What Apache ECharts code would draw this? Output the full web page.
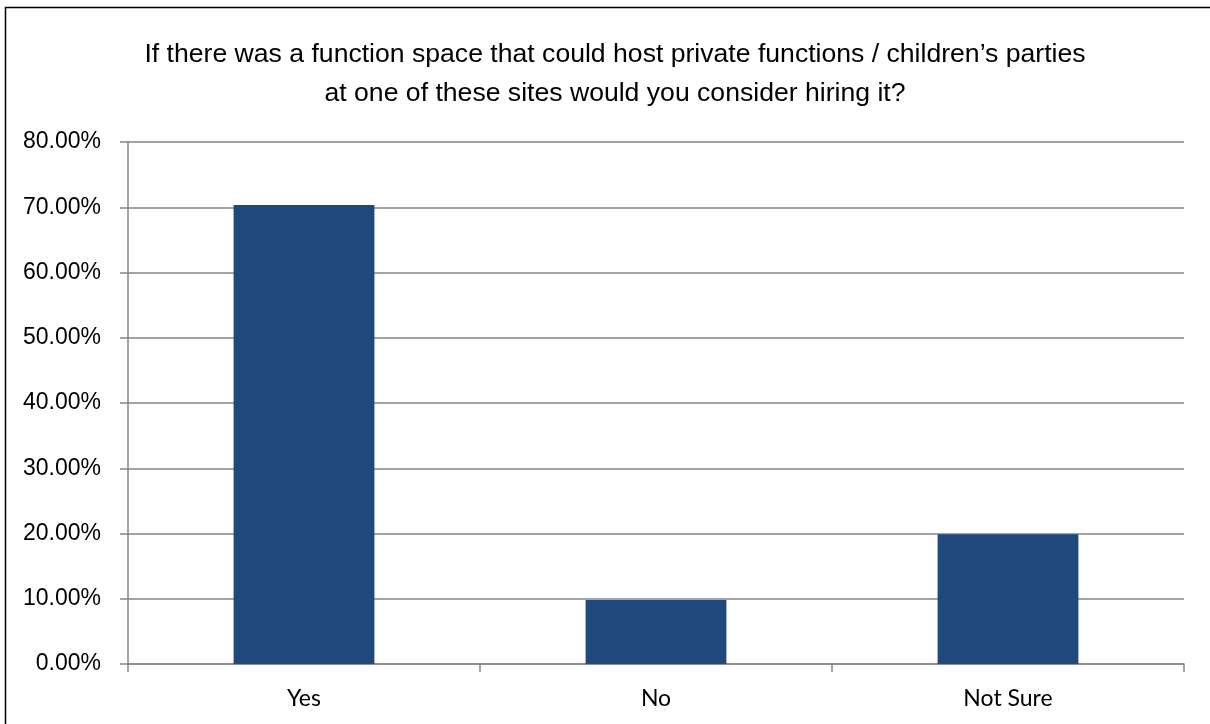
<!DOCTYPE html>
<html><head><meta charset="utf-8">
<script src="https://cdn.jsdelivr.net/npm/echarts@6/dist/echarts.min.js"></script>
<style>html,body{margin:0;padding:0;background:#fff}#c{width:1210px;height:724px}</style>
</head><body><div id="c"></div>
<script>
const categories = ["Yes", "No", "Not Sure"];
const values = [0.7034, 0.098, 0.199];
const titleLines = ["If there was a function space that could host private functions / children\u2019s parties", "at one of these sites would you consider hiring it?"];

const chart = echarts.init(document.getElementById('c'));
chart.setOption({
  animation: false,
  title: {
    text: titleLines.join('\n'),
    left: 610, top: 30, textAlign: 'center',
    textStyle: {fontFamily: 'Liberation Sans, Arial', fontSize: 26.6, fontWeight: 'normal', color: '#000', lineHeight: 39}
  },
  graphic: [{type: 'rect', shape: {x: 5.5, y: 7.5, width: 1230, height: 740}, style: {fill: 'none', stroke: '#000', lineWidth: 1.5}, silent: true, z: -1}],
  grid: {left: 128, right: 26, top: 142, bottom: 60},
  xAxis: {
    type: 'category', data: categories,
    axisLine: {lineStyle: {color: '#868686', width: 1.5}},
    axisTick: {show: true, alignWithLabel: false, length: 8, lineStyle: {color: '#868686', width: 1.5}},
    axisLabel: {fontFamily: 'Lato, Open Sans, sans-serif', fontSize: 23, color: '#000', margin: 23}
  },
  yAxis: {
    type: 'value', min: 0, max: 0.8, interval: 0.1,
    axisLine: {show: true, lineStyle: {color: '#868686', width: 1.5}},
    axisTick: {show: true, length: 8, lineStyle: {color: '#868686', width: 1.5}},
    splitLine: {lineStyle: {color: '#868686', width: 1.5}},
    axisLabel: {fontFamily: 'Liberation Sans, Arial', fontSize: 23, color: '#000', margin: 27,
      formatter: v => (v * 100).toFixed(2) + '%'}
  },
  series: [{type: 'bar', data: values, barWidth: '40%', itemStyle: {color: '#1F497D'}}]
});
</script></body></html>
